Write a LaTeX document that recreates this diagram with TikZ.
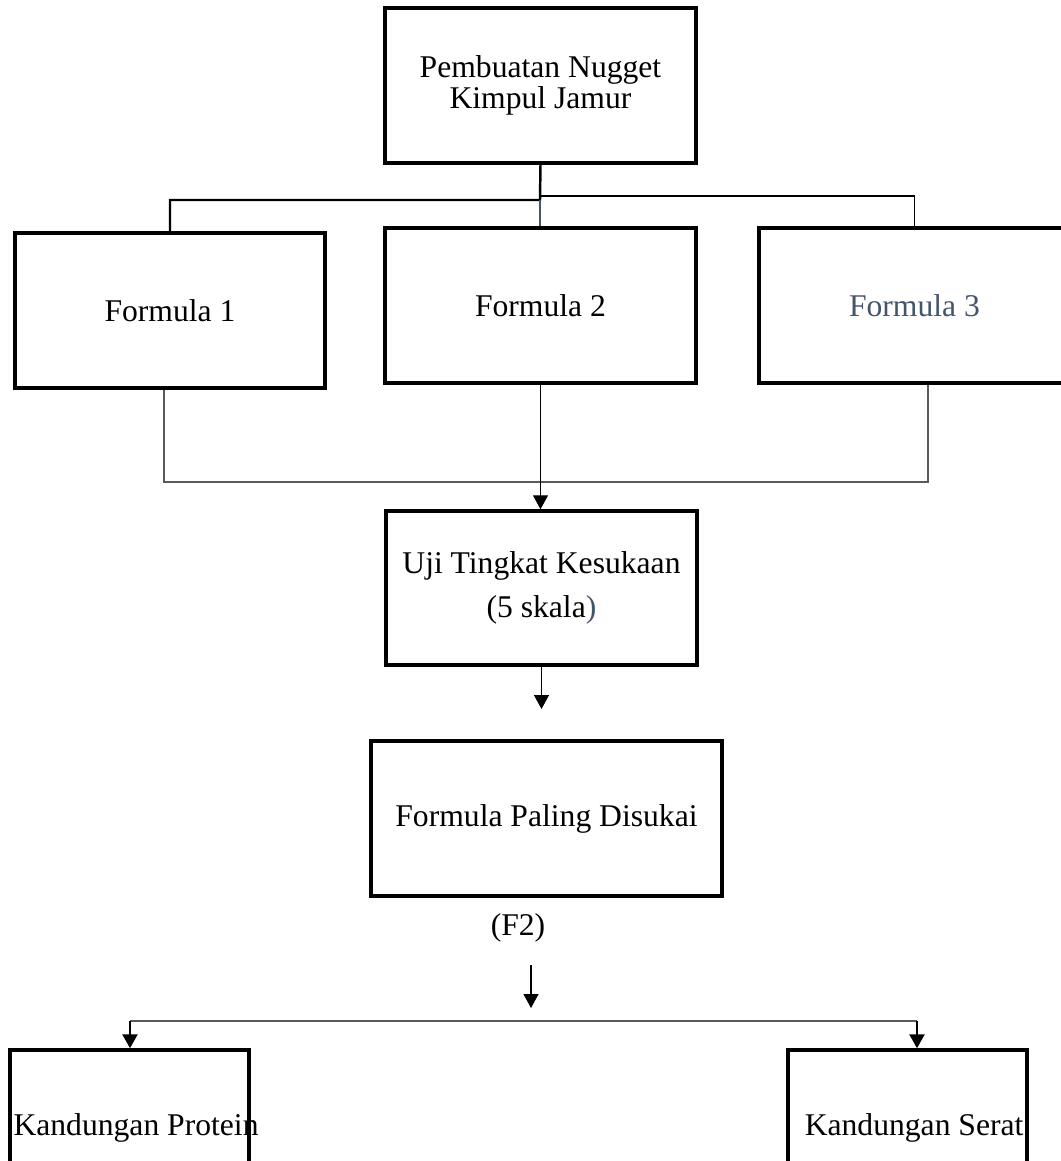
\documentclass[tikz,border=0pt]{standalone}
\usepackage{fontspec}
\setmainfont{Liberation Serif}
\usetikzlibrary{arrows.meta}
\definecolor{slate}{HTML}{44546A}
\definecolor{linegray}{HTML}{595959}
\tikzstyle{block} = [draw, line width=2pt, minimum width=6.22cm, minimum height=3.1cm, inner sep=2pt, align=center, font=\fontsize{18}{18}\selectfont]
\tikzstyle{lbl} = [font=\fontsize{18}{18}\selectfont]
\tikzstyle{arr} = [-{Triangle[length=0.28cm,width=0.3cm]}, line width=0.7pt]

\begin{document}
\begin{tikzpicture}[x=0.02cm, y=-0.02cm]
    \useasboundingbox (0,0) rectangle (1061,1161);
    \draw (540.5,85.5) node[block] (top) {Pembuatan Nugget\\Kimpul Jamur};
    \draw (170,310.5) node[block, minimum width=6.2cm] (f1) {Formula 1};
    \draw (540.5,305.5) node[block] (f2) {Formula 2};
    \draw (914.5,305.5) node[block, text=slate] (f3) {Formula 3};
    \draw (541.5,588) node[block, minimum height=3.08cm] (uji) {Uji Tingkat Kesukaan\\[7pt](5 skala\textcolor{slate}{)}};
    \draw (546.5,818.5) node[block, minimum width=7.02cm] (fav) {Formula Paling Disukai};
    \draw (518,928) node[lbl] (f2lbl) {(F2)};
    \draw (129.5,1127.5) node[block, minimum width=4.78cm, inner xsep=0.07cm] (prot) {\makebox[4.64cm][l]{Kandungan Protein}};
    \draw (907.5,1127.5) node[block, minimum width=4.78cm, inner xsep=0.07cm] (serat) {\makebox[4.64cm][r]{Kandungan Serat}};
    % top branches
    \coordinate (j1) at (540,200);
    \coordinate (j2) at (540,196);
    \draw [line width=1.4pt] (top.south) -- (j1) -| (f1.north);
    \draw [line width=1pt] (j2) -| (f3.north);
    \draw [slate, line width=1pt] (j1) -- (j1 |- f2.north);
    % merge into uji
    \coordinate (m1) at (164,482);
    \coordinate (m2) at (928,482);
    \draw [linegray, line width=0.8pt] (f1.south -| m1) -- (m1) -- (m2) -- (m2 |- f3.south);
    \draw [arr] (f2.south) -- (f2.south |- uji.north);
    \coordinate (a1) at (541.5,709);
    \draw [arr] (uji.south) -- (a1);
    \coordinate (a2) at (531,965);
    \coordinate (a3) at (531,1008);
    \draw [arr] (a2) -- (a3);
    % split to results
    \coordinate (b1) at (130,1021);
    \coordinate (b2) at (917,1021);
    \draw [linegray, line width=1pt] (b1) -- (b2);
    \draw [arr, line width=1.4pt] (b1) -- (b1 |- prot.north);
    \draw [arr, line width=1.4pt] (b2) -- (b2 |- serat.north);
\end{tikzpicture}
\end{document}
